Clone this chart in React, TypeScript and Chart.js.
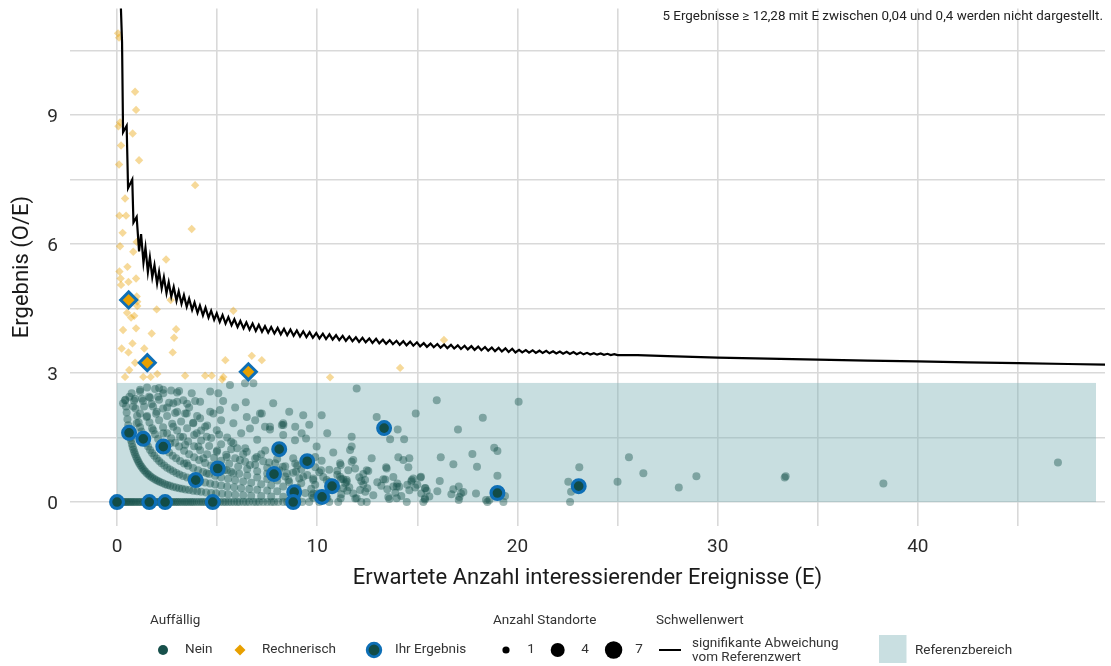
import React, { useEffect, useRef } from 'react';
import { Chart, registerables } from 'chart.js';

Chart.register(...registerables);

const FONT = 'Roboto, "Open Sans", "DejaVu Sans", sans-serif';

// ---- axes ----
const xGridValues = [0, 5, 10, 15, 20, 25, 30, 35, 40, 45];
const xTickLabels = [0, 10, 20, 30, 40];
const yGridValues = [0, 1.5, 3, 4.5, 6, 7.5, 9, 10.5];
const yTickLabels = [0, 3, 6, 9];
const xRange = [-2.35, 49.35];
const yRange = [-0.55, 11.48];

const xTitle = 'Erwartete Anzahl interessierender Ereignisse (E)';
const yTitle = 'Ergebnis (O/E)';
const noteText = '5 Ergebnisse \u2265 12,28 mit E zwischen 0,04 und 0,4 werden nicht dargestellt.';

// ---- reference range (Referenzbereich) ----
const referenceE = [0, 48.9];
const referenceY = [0, 2.77];

// ---- "Nein" results: expected E per observed count O (Ergebnis = O/E) ----
const neinO0E = [0.02, 0.08, 0.15, 0.22, 0.3, 0.37, 0.45, 0.5, 0.58, 0.66, 0.72, 0.8, 0.88, 0.95, 1.05, 1.12, 1.2, 1.3, 1.38, 1.45, 1.55, 1.62, 1.7, 1.8, 1.9, 1.97, 2.05, 2.15, 2.25, 2.33, 2.42, 2.5, 2.6, 2.7, 2.78, 2.88, 2.97, 3.05, 3.15, 3.25, 3.36, 3.45, 3.55, 3.66, 3.75, 3.85, 3.97, 4.08, 4.2, 4.3, 4.42, 4.55, 4.66, 4.78, 4.9, 5.02, 5.15, 5.3, 5.42, 5.56, 5.7, 5.85, 6.0, 6.12, 6.3, 6.45, 6.6, 6.8, 6.95, 7.1, 7.3, 7.5, 7.7, 7.85, 8.05, 8.3, 8.5, 8.75, 9.0, 9.25, 9.6, 10.1, 10.6, 12.2, 15.3, 18.5, 19.3];
const neinO1E = [0.42, 0.45, 0.48, 0.52, 0.56, 0.6, 0.63, 0.67, 0.7, 0.74, 0.78, 0.82, 0.86, 0.9, 0.95, 1.0, 1.05, 1.1, 1.16, 1.22, 1.28, 1.35, 1.42, 1.5, 1.58, 1.66, 1.75, 1.85, 1.95, 2.05, 2.15, 2.27, 2.4, 2.52, 2.65, 2.8, 2.95, 3.1, 3.25, 3.42, 3.6, 3.8, 4.0, 4.2, 4.45, 4.7, 4.95, 5.25, 5.55, 5.9, 6.3, 6.7, 7.2, 7.7, 8.3, 9.0, 9.8, 10.5, 11.9, 13.6];
const neinO2E = [0.85, 0.92, 1.0, 1.08, 1.15, 1.22, 1.38, 1.46, 1.55, 1.65, 1.75, 1.86, 1.98, 2.1, 2.22, 2.36, 2.5, 2.65, 2.8, 2.96, 3.12, 3.3, 3.5, 3.7, 4.15, 4.4, 4.65, 4.9, 5.2, 5.5, 5.85, 6.2, 6.6, 7.0, 7.5, 8.0, 9.4, 10.0, 11.2, 12.8, 14.2, 15.6, 17.1];
const neinO3E = [1.15, 1.25, 1.35, 1.5, 1.62, 1.75, 1.9, 2.05, 2.2, 2.45, 2.6, 2.78, 2.95, 3.15, 3.35, 3.55, 3.8, 4.05, 4.3, 4.6, 4.9, 5.2, 5.55, 5.9, 6.3, 6.7, 7.2, 7.7, 8.3, 9.0, 9.7, 10.6, 11.5, 12.4, 13.9, 15.2, 16.7];
const neinO4E = [1.5, 1.65, 1.8, 1.95, 2.1, 2.3, 2.5, 2.7, 2.9, 3.1, 3.35, 3.6, 3.85, 4.1, 4.4, 4.7, 5.35, 5.7, 6.1, 6.5, 7.0, 7.5, 8.0, 8.6, 9.2, 9.9, 11.6, 12.5, 13.5, 14.6, 16.0, 17.3];
const neinO5E = [1.9, 2.1, 2.3, 2.5, 2.75, 3.0, 3.3, 3.55, 3.85, 4.15, 4.5, 4.85, 5.2, 5.6, 6.05, 6.5, 7.0, 7.5, 8.4, 9.1, 9.8, 10.6, 11.4, 12.3, 13.2, 14.1, 15.4, 16.8];
const neinO6E = [2.3, 2.6, 2.9, 3.2, 3.5, 3.85, 4.2, 4.6, 5.0, 5.45, 5.9, 6.4, 6.9, 7.5, 8.1, 8.8, 9.5, 10.3, 11.2, 12.2, 13.0, 14.0, 15.0];
const neinO7E = [2.7, 3.0, 3.4, 3.8, 4.2, 4.7, 5.2, 5.7, 6.3, 6.9, 7.6, 8.4, 9.2, 10.1, 11.0, 12.1, 13.4, 14.7];
const neinO8E = [3.1, 3.5, 4.0, 4.5, 5.1, 5.7, 6.4, 7.2, 8.0, 8.9, 9.9, 11.0, 12.3, 13.8];

// ---- further "Nein" results [E, O/E] ----
const neinScatter = [
  [0.4, 2.37], [0.73, 2.53], [1.15, 2.57], [1.73, 2.28], [2.31, 2.53], [1.98, 2.1], [2.81, 2.3], [3.31, 2.37], [3.73, 2.53], [4.15, 2.33],
  [4.65, 2.57], [5.06, 2.53], [5.64, 2.72], [6.39, 2.76], [6.81, 2.76], [6.43, 2.32], [7.14, 2.06], [5.14, 2.14], [4.81, 2.06], [4.15, 1.95],
  [3.48, 2.06], [3.81, 1.83], [3.98, 1.6], [4.48, 1.52], [4.98, 1.67], [5.81, 1.37], [6.48, 1.17], [5.48, 1.05], [6.48, 1.98], [6.64, 1.71],
  [5.81, 1.83], [4.65, 2.1], [6.14, 0.98], [6.64, 0.86], [6.98, 1.05], [7.64, 1.75], [8.31, 1.79], [9.22, 1.6], [9.3, 2.02], [10.22, 2.02],
  [11.97, 2.64], [12.97, 1.98], [11.64, 1.21], [11.8, 0.98], [11.14, 0.9], [12.47, 0.74], [13.47, 0.78], [13.97, 0.36], [11.47, 0.51], [11.8, 0.2],
  [12.47, 0], [11.05, 0], [9.8, 0.2], [0.81, 2.22], [1.15, 2.06], [1.48, 1.98], [0.98, 1.83], [1.81, 1.67], [2.31, 1.6], [2.81, 1.75],
  [3.15, 1.52], [2.65, 1.37], [3.4, 1.33], [4.06, 1.29], [4.31, 1.02], [4.98, 1.17], [5.48, 0.74], [5.81, 0.67], [4.48, 0.67], [3.48, 0.9],
  [7.23, 2.06], [8.23, 1.79], [7.64, 1.69], [8.3, 1.56], [14.92, 2.06], [14.02, 1.69], [14.34, 1.46], [13.64, 1.46], [11.72, 1.52], [8.89, 1.44],
  [9.44, 1.48], [9.97, 1.29], [11.72, 1.29], [10.22, 0.96], [11.17, 0.86], [11.72, 0.94], [11.89, 0.78], [12.72, 1.02], [12.55, 0.72], [13.44, 0.81],
  [14.05, 1.04], [14.3, 0.98], [14.55, 0.81], [14.72, 0.51], [15.18, 0.59], [15.38, 0.32], [11.3, 0.53], [11.47, 0.47], [12.14, 0.28], [12.39, 0.51],
  [13.3, 0.53], [13.8, 0.36], [14.89, 0.34], [11.17, 0.09], [11.97, 0.09], [13.55, 0.12], [13.97, 0.09], [14.47, 0], [15.38, 0.09], [7.39, 1.75],
  [8.3, 1.83], [8.8, 1.02], [8.28, 0.82], [8.48, 0.67], [8.56, 0.51], [8.94, 0.71], [9.3, 0.59], [9.8, 0.55], [10.19, 0.74], [11.14, 0.59],
  [11.3, 0.32], [11.55, 0.74], [10.47, 0.51], [10.97, 0.32], [9.73, 0.16], [0.3, 2.3], [0.62, 2.45], [0.9, 2.4], [1.3, 2.35], [1.6, 2.45],
  [2.05, 2.45], [2.5, 2.2], [3.0, 2.1], [3.6, 2.2],
  [5.3, 2.35], [5.9, 2.2], [6.2, 1.6], [6.9, 1.9], [7.0, 1.45], [7.4, 1.2], [7.8, 2.3], [8.6, 2.1], [8.9, 1.75], [9.6, 1.8],
  [10.5, 1.6], [10.8, 1.15], [5.5, 1.5], [6.0, 1.25], [7.3, 0.95], [7.9, 0.9], [9.0, 0.85], [9.9, 1.05], [10.6, 0.75], [5.2, 1.9],
  [4.4, 1.75], [3.9, 2.35], [3.0, 2.55], [2.1, 2.65],
  [15.97, 2.37], [20.06, 2.33], [18.27, 1.96], [17.03, 1.69], [18.84, 1.26], [19.0, 1.19], [16.17, 1.04], [17.75, 1.12], [14.6, 1.02], [16.8, 0.88],
  [17.98, 0.82], [19.0, 0.61], [16.12, 0.49], [15.16, 0.57], [17.07, 0.36], [17.18, 0.2], [17.93, 0.2], [18.43, 0.05], [18.6, 0.05], [19.38, 0.14],
  [17.07, 0.05], [15.47, 0.26], [15.38, 0.06], [14.5, 0.4], [14.8, 0.55],
  [25.57, 1.04], [23.09, 0.81], [26.29, 0.67], [28.94, 0.6], [25.0, 0.47], [28.06, 0.34], [22.54, 0.47], [22.68, 0.24], [22.63, 0], [33.35, 0.57],
  [33.4, 0.6], [38.28, 0.43], [47.0, 0.92],
];

// ---- "Rechnerisch" auffällige results [E, O/E] ----
const rechnerisch = [
  [0.05, 10.9], [0.1, 10.8], [0.9, 9.54], [0.95, 9.12], [0.15, 8.83], [0.07, 8.74], [0.78, 8.57], [0.2, 8.29], [1.1, 7.95], [0.1, 7.85],
  [3.9, 7.37], [0.4, 7.06], [0.12, 6.66], [0.45, 6.66], [3.73, 6.35], [0.28, 6.26], [0.15, 5.95], [0.98, 6.05], [0.81, 5.82], [2.45, 5.64],
  [0.52, 5.47], [0.12, 5.36], [0.95, 5.2], [0.18, 5.2], [0.57, 5.12], [0.2, 5.05], [2.68, 4.7], [1.01, 4.66], [1.98, 4.48], [0.86, 4.33],
  [0.7, 4.29], [5.81, 4.45], [0.95, 4.04], [2.95, 4.02], [1.73, 3.92], [2.85, 3.82], [0.77, 3.69], [0.23, 3.57], [1.36, 3.57], [0.57, 3.48],
  [2.78, 3.48], [0.9, 3.24], [6.73, 3.4], [5.41, 3.3], [7.23, 3.3], [0.61, 3.07], [0.4, 2.91], [1.31, 2.91], [1.68, 2.91], [2.01, 2.98],
  [3.4, 2.94], [4.4, 2.94], [4.73, 2.94], [5.31, 2.91], [10.64, 2.9], [16.33, 3.77], [14.14, 3.12], [0.98, 4.78], [1.01, 4.56], [5.25, 2.85],
  [0.3, 4.0], [0.5, 4.4],
];

// ---- "Ihr Ergebnis" ----
const ihrNein = [
  [0.0, 0], [1.61, 0], [2.4, 0], [4.78, 0], [0.6, 1.61], [1.31, 1.47], [2.31, 1.29], [3.93, 0.51], [5.03, 0.78], [7.84, 0.65],
  [8.1, 1.23], [9.5, 0.95], [8.85, 0.23], [8.8, 0], [10.24, 0.12], [10.74, 0.37], [13.34, 1.72], [19.0, 0.21], [23.06, 0.37],
];
const ihrRechnerisch = [[0.58, 4.7], [1.51, 3.24], [6.56, 3.03]];

// ---- Schwellenwert (significant deviation threshold) [E, O/E] ----
const threshold = [
  [0.17, 11.8], [0.25, 10.7], [0.3, 8.6], [0.48, 8.75], [0.55, 7.3], [0.76, 7.5], [0.82, 6.5],
  [0.98, 6.63], [1.1, 5.83], [1.2, 6.23], [1.32, 5.57],
  [1.42, 5.92], [1.54, 5.35], [1.64, 5.69], [1.76, 5.23], [1.87, 5.51], [2.0, 5.08], [2.1, 5.36], [2.23, 4.97],
  [2.34, 5.23], [2.47, 4.86], [2.58, 5.11], [2.71, 4.78], [2.83, 5.0], [2.97, 4.68], [3.08, 4.9], [3.22, 4.61],
  [3.34, 4.81], [3.48, 4.54], [3.6, 4.73], [3.75, 4.47], [3.87, 4.64], [4.02, 4.4], [4.14, 4.57], [4.29, 4.34],
  [4.42, 4.52], [4.57, 4.29], [4.7, 4.45], [4.85, 4.24], [4.98, 4.39], [5.13, 4.19], [5.27, 4.35], [5.42, 4.15],
  [5.56, 4.3], [5.72, 4.11], [5.86, 4.25], [6.02, 4.07], [6.16, 4.21], [6.32, 4.04], [6.46, 4.18], [6.62, 4.01],
  [6.77, 4.15], [6.93, 3.98], [7.08, 4.12], [7.24, 3.96], [7.39, 4.09], [7.55, 3.94], [7.7, 4.07], [7.86, 3.92],
  [8.02, 4.05], [8.18, 3.9], [8.34, 4.03], [8.5, 3.88], [8.66, 4.01], [8.82, 3.865], [8.98, 3.99], [9.14, 3.85],
  [9.3, 3.97], [9.46, 3.835], [9.62, 3.95], [9.78, 3.82], [9.95, 3.93], [10.11, 3.805], [10.28, 3.915], [10.44, 3.79],
  [10.61, 3.9], [10.77, 3.78], [10.94, 3.88], [11.1, 3.765], [11.27, 3.865], [11.43, 3.75], [11.6, 3.85], [11.76, 3.74],
  [11.93, 3.83], [12.09, 3.725], [12.26, 3.82], [12.42, 3.715], [12.6, 3.805], [12.76, 3.7], [12.94, 3.795], [13.1, 3.69],
  [13.28, 3.775], [13.44, 3.68], [13.62, 3.765], [13.78, 3.67], [13.96, 3.75], [14.12, 3.655], [14.3, 3.74], [14.46, 3.645],
  [14.64, 3.73], [14.8, 3.635], [14.98, 3.715], [15.14, 3.62], [15.32, 3.695], [15.48, 3.61], [15.66, 3.685], [15.82, 3.6],
  [16.0, 3.675], [16.16, 3.59], [16.34, 3.665], [16.5, 3.58], [16.68, 3.655], [16.84, 3.57], [17.02, 3.645], [17.18, 3.56],
  [17.36, 3.635], [17.52, 3.55], [17.7, 3.625], [17.86, 3.54], [18.04, 3.615], [18.2, 3.53], [18.38, 3.605], [18.54, 3.52],
  [18.72, 3.595], [18.88, 3.51], [19.06, 3.585], [19.22, 3.5], [19.4, 3.575], [19.56, 3.49], [19.74, 3.565], [19.9, 3.48],
  [20.08, 3.54], [20.24, 3.48], [20.42, 3.535], [20.58, 3.475], [20.76, 3.53], [20.92, 3.47], [21.1, 3.52], [21.26, 3.465],
  [21.44, 3.515], [21.6, 3.46], [21.78, 3.505], [21.94, 3.455], [22.12, 3.5], [22.28, 3.45], [22.46, 3.495], [22.62, 3.445],
  [22.8, 3.49], [22.96, 3.44], [23.14, 3.48], [23.3, 3.435], [23.48, 3.47], [23.64, 3.432], [23.82, 3.462], [23.98, 3.428],
  [24.16, 3.455], [24.32, 3.425], [24.5, 3.448], [24.66, 3.42], [24.84, 3.44], [25.0, 3.417],
  [26.0, 3.415], [27.5, 3.395], [30.0, 3.36], [32.5, 3.335], [35.0, 3.31], [37.5, 3.29], [40.0, 3.27], [42.5, 3.25],
  [45.0, 3.23], [47.5, 3.21], [50.0, 3.19],
];

// ---- legend labels ----
const legendAuffaellig = ['Nein', 'Rechnerisch', 'Ihr Ergebnis'];
const legendStandorte = ['1', '4', '7'];

const neinCurves: Array<[number, number[]]> = [
  [0, neinO0E], [1, neinO1E], [2, neinO2E], [3, neinO3E], [4, neinO4E],
  [5, neinO5E], [6, neinO6E], [7, neinO7E], [8, neinO8E],
];

const toXY = (arr: number[][]) => arr.map(([e, v]) => ({ x: e, y: v }));

const COLORS = {
  neinFill: 'rgba(22,80,74,0.42)',
  neinSolid: '#17504b',
  rechFill: 'rgba(232,160,0,0.4)',
  rechSolid: '#e8a000',
  ihrBorder: '#0e6fb6',
  ihrFill: '#124c47',
  band: 'rgba(125,176,182,0.42)',
  bandSolid: '#c9dfe1',
  grid: '#d9d9d9',
};

function drawDiamond(ctx: CanvasRenderingContext2D, x: number, y: number, r: number) {
  ctx.beginPath();
  ctx.moveTo(x - r, y);
  ctx.lineTo(x, y - r);
  ctx.lineTo(x + r, y);
  ctx.lineTo(x, y + r);
  ctx.closePath();
}

const overlayPlugin = {
  id: 'overlay',
  beforeDatasetsDraw(chart: any) {
    const { ctx, scales } = chart;
    const x = scales.x, y = scales.y;
    const x0 = x.getPixelForValue(referenceE[0]);
    const x1 = x.getPixelForValue(referenceE[1]);
    const y0 = y.getPixelForValue(referenceY[0]);
    const y1 = y.getPixelForValue(referenceY[1]);
    ctx.save();
    ctx.fillStyle = COLORS.band;
    ctx.fillRect(x0, y1, x1 - x0, y0 - y1);
    ctx.restore();
  },
  afterDraw(chart: any) {
    const { ctx, scales, chartArea } = chart;
    const x = scales.x, y = scales.y;
    ctx.save();
    // tick labels
    ctx.fillStyle = '#2b2b2b';
    ctx.font = `19px ${FONT}`;
    ctx.textBaseline = 'alphabetic';
    ctx.textAlign = 'center';
    for (const v of xTickLabels) ctx.fillText(String(v), x.getPixelForValue(v), 552);
    ctx.textAlign = 'right';
    for (const v of yTickLabels) ctx.fillText(String(v), 58, y.getPixelForValue(v) + 7);

    // axis titles
    ctx.fillStyle = '#1a1a1a';
    ctx.font = `22px ${FONT}`;
    ctx.textAlign = 'center';
    ctx.textBaseline = 'middle';
    ctx.fillText(xTitle, (chartArea.left + chartArea.right) / 2, 578);
    ctx.save();
    ctx.translate(22, (chartArea.top + chartArea.bottom) / 2);
    ctx.rotate(-Math.PI / 2);
    ctx.fillText(yTitle, 0, 0);
    ctx.restore();

    // note
    ctx.fillStyle = '#222';
    ctx.font = `13.4px ${FONT}`;
    ctx.textAlign = 'right';
    ctx.fillText(noteText, 1103, 17);

    // legend
    const ly = 650;
    ctx.fillStyle = '#333';
    ctx.font = `13.5px ${FONT}`;
    ctx.textAlign = 'left';
    ctx.fillText('Auffällig', 150, 621);
    ctx.fillText('Anzahl Standorte', 493, 621);
    ctx.fillText('Schwellenwert', 656, 621);

    // Nein
    ctx.fillStyle = COLORS.neinSolid;
    ctx.beginPath(); ctx.arc(163, ly, 5, 0, Math.PI * 2); ctx.fill();
    // Rechnerisch
    ctx.fillStyle = COLORS.rechSolid;
    drawDiamond(ctx, 240, ly, 5.5); ctx.fill();
    // Ihr Ergebnis
    ctx.fillStyle = COLORS.ihrFill;
    ctx.strokeStyle = COLORS.ihrBorder;
    ctx.lineWidth = 2.8;
    ctx.beginPath(); ctx.arc(374, ly, 6.8, 0, Math.PI * 2); ctx.fill(); ctx.stroke();

    ctx.fillStyle = '#333';
    ctx.fillText(legendAuffaellig[0], 185, ly);
    ctx.fillText(legendAuffaellig[1], 262, ly);
    ctx.fillText(legendAuffaellig[2], 395, ly);

    // Anzahl Standorte
    const sizes = [3.6, 7, 8.7];
    const dotX = [506, 557.7, 613.6];
    const labX = [531, 585, 639];
    for (let i = 0; i < 3; i++) {
      ctx.fillStyle = '#000';
      ctx.beginPath(); ctx.arc(dotX[i], ly, sizes[i], 0, Math.PI * 2); ctx.fill();
      ctx.fillStyle = '#333';
      ctx.textAlign = 'center';
      ctx.fillText(legendStandorte[i], labX[i], ly);
    }
    // Schwellenwert
    ctx.strokeStyle = '#000';
    ctx.lineWidth = 2;
    ctx.beginPath(); ctx.moveTo(659, ly); ctx.lineTo(681, ly); ctx.stroke();
    ctx.fillStyle = '#333';
    ctx.textAlign = 'left';
    ctx.fillText('signifikante Abweichung', 692, 644);
    ctx.fillText('vom Referenzwert', 692, 658);
    // Referenzbereich
    ctx.fillStyle = COLORS.bandSolid;
    ctx.fillRect(879, 635, 27.5, 28);
    ctx.fillStyle = '#333';
    ctx.fillText('Referenzbereich', 915, 651);
    ctx.restore();
  },
};

export default function App() {
  const ref = useRef<HTMLCanvasElement>(null);
  useEffect(() => {
    const neinPoints = [
      ...neinCurves.flatMap(([o, es]) => es.map((e) => ({ x: e, y: o / e }))),
      ...toXY(neinScatter),
    ];
    const chart = new Chart(ref.current as HTMLCanvasElement, {
      type: 'scatter',
      data: {
        datasets: [
          {
            label: 'Nein',
            data: neinPoints,
            pointStyle: 'circle',
            pointRadius: 4,
            pointBackgroundColor: COLORS.neinFill,
            pointBorderWidth: 0,
            order: 5,
          },
          {
            label: 'Rechnerisch',
            data: toXY(rechnerisch),
            pointStyle: 'rectRot',
            pointRadius: 4.2,
            pointBackgroundColor: COLORS.rechFill,
            pointBorderWidth: 0,
            order: 4,
          },
          {
            label: 'Schwellenwert',
            data: toXY(threshold),
            showLine: true,
            pointRadius: 0,
            borderColor: '#000',
            borderWidth: 2.2,
            tension: 0,
            fill: false,
            order: 3,
          } as any,
          {
            label: 'Ihr Ergebnis',
            data: toXY(ihrNein),
            pointStyle: 'circle',
            pointRadius: 6.4,
            pointBackgroundColor: COLORS.ihrFill,
            pointBorderColor: COLORS.ihrBorder,
            pointBorderWidth: 3.2,
            order: 2,
          },
          {
            label: 'Ihr Ergebnis (rechnerisch)',
            data: toXY(ihrRechnerisch),
            pointStyle: 'rectRot',
            pointRadius: 8,
            pointBackgroundColor: COLORS.rechSolid,
            pointBorderColor: COLORS.ihrBorder,
            pointBorderWidth: 3,
            order: 1,
          },
        ],
      },
      options: {
        responsive: false,
        animation: false,
        devicePixelRatio: 1,
        events: [],
        layout: { autoPadding: false, padding: { left: 0, right: 6, top: 8.4, bottom: 0 } },
        plugins: { legend: { display: false }, tooltip: { enabled: false } },
        scales: {
          x: {
            type: 'linear',
            position: 'bottom',
            min: xRange[0],
            max: xRange[1],
            afterBuildTicks: (s: any) => { s.ticks = xGridValues.map((v) => ({ value: v })); },
            afterFit: (s: any) => { s.height = 140.3; },
            grid: { color: COLORS.grid, lineWidth: 1.6, drawTicks: false },
            border: { display: false },
            ticks: { display: false },
          },
          y: {
            type: 'linear',
            min: yRange[0],
            max: yRange[1],
            afterBuildTicks: (s: any) => { s.ticks = yGridValues.map((v) => ({ value: v })); },
            afterFit: (s: any) => { s.width = 70; },
            grid: { color: COLORS.grid, lineWidth: 1.6, drawTicks: false },
            border: { display: false },
            ticks: { display: false },
          },
        },
      } as any,
      plugins: [overlayPlugin],
    });
    return () => chart.destroy();
  }, []);
  return (
    <div style={{ position: 'absolute', left: 0, top: 0, width: 1111, height: 666, background: '#fff' }}>
      <canvas ref={ref} width={1111} height={666} style={{ width: 1111, height: 666, display: 'block' }} />
    </div>
  );
}
